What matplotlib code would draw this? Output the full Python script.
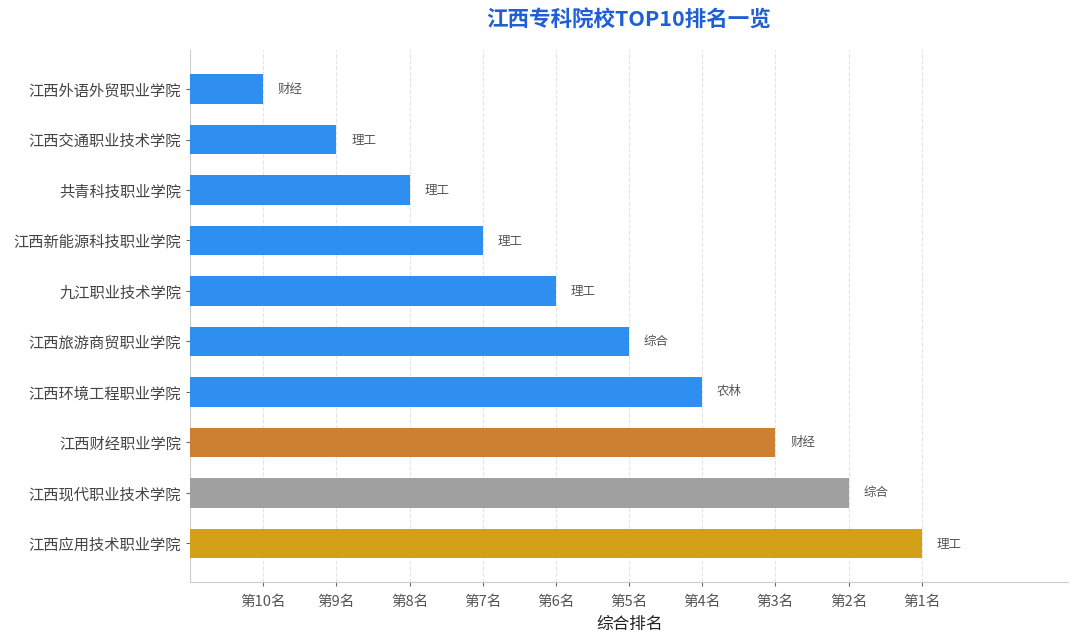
import numpy as np
import matplotlib
matplotlib.use("Agg")
import matplotlib.pyplot as plt

plt.rcParams['font.family'] = ['Noto Sans CJK SC', 'DejaVu Sans']

schools = ["江西外语外贸职业学院", "江西交通职业技术学院", "共青科技职业学院",
           "江西新能源科技职业学院", "九江职业技术学院", "江西旅游商贸职业学院",
           "江西环境工程职业学院", "江西财经职业学院", "江西现代职业技术学院",
           "江西应用技术职业学院"]
ranks = [10, 9, 8, 7, 6, 5, 4, 3, 2, 1]
types = ["财经", "理工", "理工", "理工", "理工", "综合", "农林", "财经", "综合", "理工"]
tick_labels = [f"第{r}名" for r in range(10, 0, -1)]

def bar_color(r):
    return {1: "#D4A017", 2: "#A0A0A0", 3: "#CD7F32"}.get(r, "#2E8FF0")

scores = [11 - r for r in ranks]

fig = plt.figure(figsize=(10.8, 6.44), dpi=100)
ax = fig.add_axes([0.176, 0.096, 0.813, 0.826])

y = np.arange(len(schools))
ax.barh(y, scores, height=0.58, color=[bar_color(r) for r in ranks], zorder=3)
for yi, s, t in zip(y, scores, types):
    ax.text(s + 0.2, yi, t, va="center", ha="left", fontsize=9, color="#555555", zorder=4)

ax.set_yticks(y)
ax.set_yticklabels(schools, fontsize=11)
ax.invert_yaxis()
ax.set_xlim(0, 12)
ax.set_xticks(range(1, 11))
ax.set_xticklabels(tick_labels, fontsize=10.5)
ax.set_xlabel("综合排名", fontsize=12, fontweight="medium", color="#222222", labelpad=5)
ax.set_title("江西专科院校TOP10排名一览", fontsize=15.5, fontweight="bold",
             color="#1E5FD6", pad=17)

ax.grid(axis="x", linestyle="--", color="#e4e4e4", linewidth=0.8, zorder=0)
for side in ["top", "right"]:
    ax.spines[side].set_visible(False)
for side in ["left", "bottom"]:
    ax.spines[side].set_color("#cccccc")
ax.tick_params(axis="both", colors="#666666", length=3)
ax.tick_params(axis="y", labelcolor="#444444")
ax.tick_params(axis="x", labelcolor="#555555", pad=6)

fig.savefig("out.png", dpi=100)
